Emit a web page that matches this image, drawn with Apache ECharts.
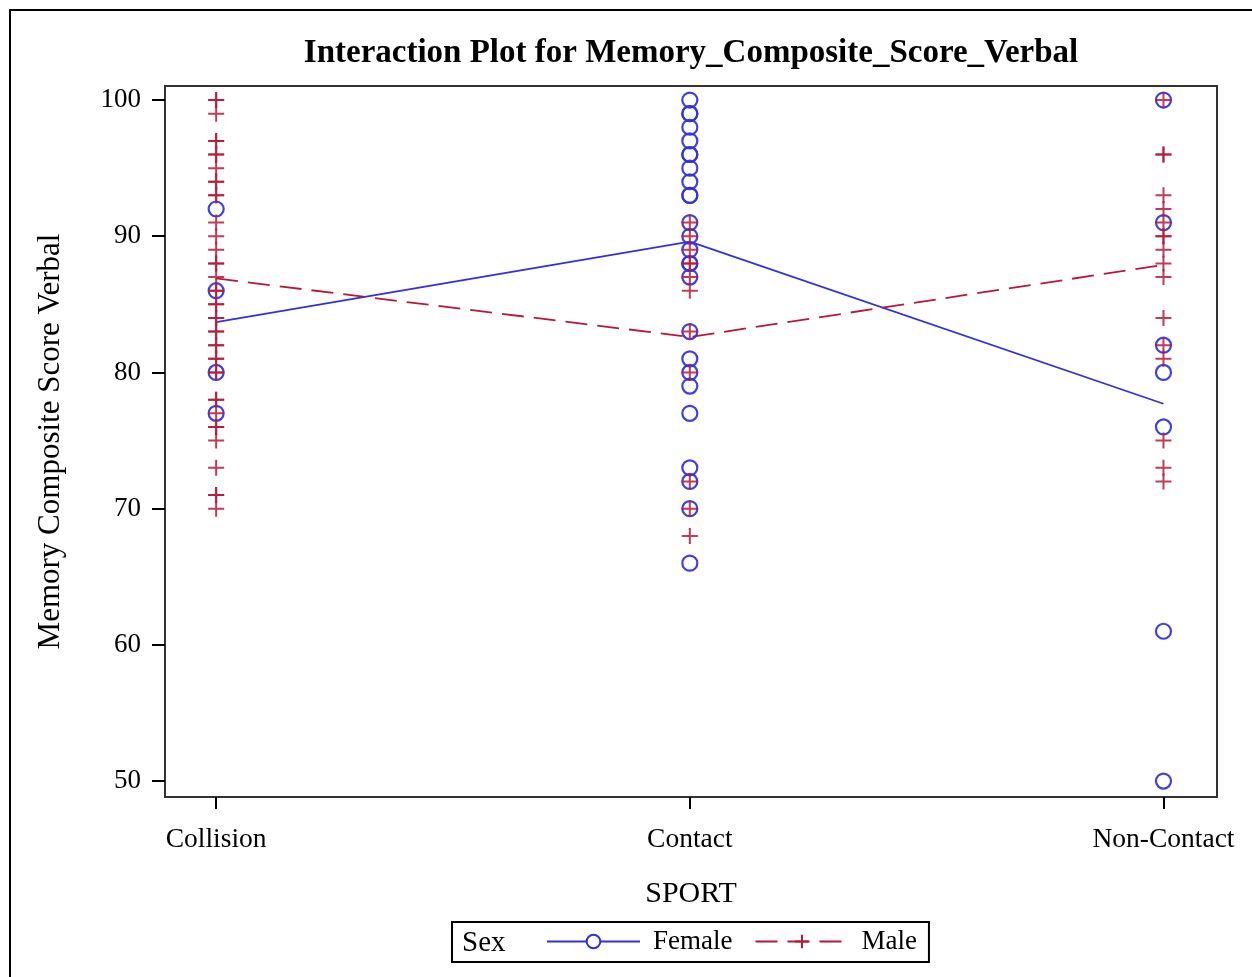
<!DOCTYPE html>
<html>
<head>
<meta charset="utf-8">
<script src="https://cdn.jsdelivr.net/npm/echarts@6/dist/echarts.min.js"></script>
<style>
html,body{margin:0;padding:0;background:#fff;}
#chart{width:1252px;height:977px;}
</style>
</head>
<body>
<div id="chart"></div>
<script>
// ---- data ----
var categories = ['Collision', 'Contact', 'Non-Contact'];
var yTicks = [50, 60, 70, 80, 90, 100];

var femaleCollision  = [92, 86, 80, 77];
var femaleContact    = [100, 99, 99, 98, 97, 96, 96, 95, 94, 93, 93, 91, 90, 89, 88, 88, 87, 83, 81, 80, 79, 77, 73, 72, 70, 66];
var femaleNonContact = [100, 91, 82, 80, 76, 61, 50];

var maleCollision  = [100, 100, 99, 97, 97, 96, 96, 95, 94, 94, 93, 93, 91, 90, 89, 88, 88, 87, 86, 86, 85, 85, 84, 84, 83, 83, 82, 82, 81, 81, 80, 80, 78, 78, 77, 76, 76, 75, 73, 71, 71, 70];
var maleContact    = [91, 90, 89, 88, 88, 87, 86, 83, 80, 72, 70, 68];
var maleNonContact = [100, 96, 96, 93, 92, 91, 90, 90, 89, 88, 87, 84, 82, 81, 75, 73, 72];

var femaleMeans = [83.7, 89.6, 77.7];
var maleMeans   = [86.9, 82.6, 87.9];

// ---- build series data ----
function toPoints(groups) {
  var out = [];
  groups.forEach(function (vals, ci) {
    vals.forEach(function (v) { out.push([ci, v]); });
  });
  return out;
}
var femalePts = toPoints([femaleCollision, femaleContact, femaleNonContact]);
var malePts = toPoints([maleCollision, maleContact, maleNonContact]);
var femaleLine = femaleMeans.map(function (v, i) { return [i, v]; });
var maleLine = maleMeans.map(function (v, i) { return [i, v]; });

var BLUE = '#3030e0';
var RED = '#b8173a';
var FONT = '"Liberation Serif", "Times New Roman", serif';
var PLUS = 'path://M0,5L10,5M5,0L5,10';

var chart = echarts.init(document.getElementById('chart'), null, {renderer: 'canvas'});
chart.setOption({
  animation: false,
  backgroundColor: '#fff',
  textStyle: {fontFamily: FONT, color: '#000'},
  grid: {
    left: 165, top: 86, width: 1052, height: 711,
    show: true, borderColor: '#333', borderWidth: 2, backgroundColor: 'transparent'
  },
  graphic: [
    {type: 'rect', shape: {x: 10, y: 10, width: 1300, height: 1100},
     style: {fill: 'none', stroke: '#000', lineWidth: 2}, silent: true, z: -10},
    {type: 'text', x: 691, y: 53,
     style: {text: 'Interaction Plot for Memory_Composite_Score_Verbal', font: 'bold 33px ' + FONT,
             fill: '#000', textAlign: 'center', textVerticalAlign: 'middle'}},
    {type: 'text', x: 462, y: 943,
     style: {text: 'Sex', font: '29px ' + FONT, fill: '#000', textAlign: 'left', textVerticalAlign: 'middle'}, z: 100}
  ],
  legend: {
    left: 452, top: 922,
    padding: [6, 12, 7, 94],
    borderColor: '#000', borderWidth: 2,
    itemWidth: 93, itemHeight: 17, itemGap: 22,
    textStyle: {fontFamily: FONT, fontSize: 27, color: '#000', padding: [0, 0, 0, 8]},
    data: ['Female', 'Male']
  },
  xAxis: {
    type: 'value', min: -0.108, max: 2.113,
    name: 'SPORT', nameLocation: 'middle', nameGap: 82,
    nameTextStyle: {fontFamily: FONT, fontSize: 30, color: '#000'},
    axisLine: {show: true, onZero: false, lineStyle: {color: '#333', width: 2}},
    axisTick: {show: true, length: 12, lineStyle: {color: '#000', width: 2}, customValues: [0, 1, 2]},
    axisLabel: {customValues: [0, 1, 2], margin: 29, fontFamily: FONT, fontSize: 27.5, color: '#000',
      formatter: function (v) { return categories[Math.round(v)]; }},
    splitLine: {show: false}
  },
  yAxis: {
    type: 'value', min: 48.83, max: 101.03,
    name: 'Memory Composite Score Verbal', nameLocation: 'middle', nameGap: 99,
    nameTextStyle: {fontFamily: FONT, fontSize: 31, color: '#000'},
    axisLine: {show: true, onZero: false, lineStyle: {color: '#333', width: 2}},
    axisTick: {show: true, length: 13, lineStyle: {color: '#000', width: 2}, customValues: yTicks},
    axisLabel: {customValues: yTicks, margin: 24, fontFamily: FONT, fontSize: 27, color: '#000'},
    splitLine: {show: false}
  },
  series: [
    {name: 'Female', type: 'line', data: femaleLine, symbol: 'emptyCircle', showSymbol: false,
     itemStyle: {color: BLUE, borderColor: BLUE, borderWidth: 2},
     lineStyle: {color: BLUE, width: 1.8}, z: 3, silent: true},
    {name: 'Male', type: 'line', data: maleLine, symbol: PLUS, showSymbol: false,
     itemStyle: {color: RED, borderColor: RED, borderWidth: 2},
     lineStyle: {color: RED, width: 1.8, type: [22, 10]}, z: 3, silent: true},
    {name: 'Female', type: 'scatter', data: femalePts, symbol: 'circle', symbolSize: 15,
     itemStyle: {color: 'rgba(0,0,0,0)', borderColor: BLUE, borderWidth: 2.2, opacity: 0.92}, z: 4},
    {name: 'Male', type: 'scatter', data: malePts, symbol: PLUS, symbolSize: 16,
     itemStyle: {color: 'rgba(0,0,0,0)', borderColor: RED, borderWidth: 2, opacity: 0.85}, z: 5}
  ]
});
</script>
</body>
</html>
